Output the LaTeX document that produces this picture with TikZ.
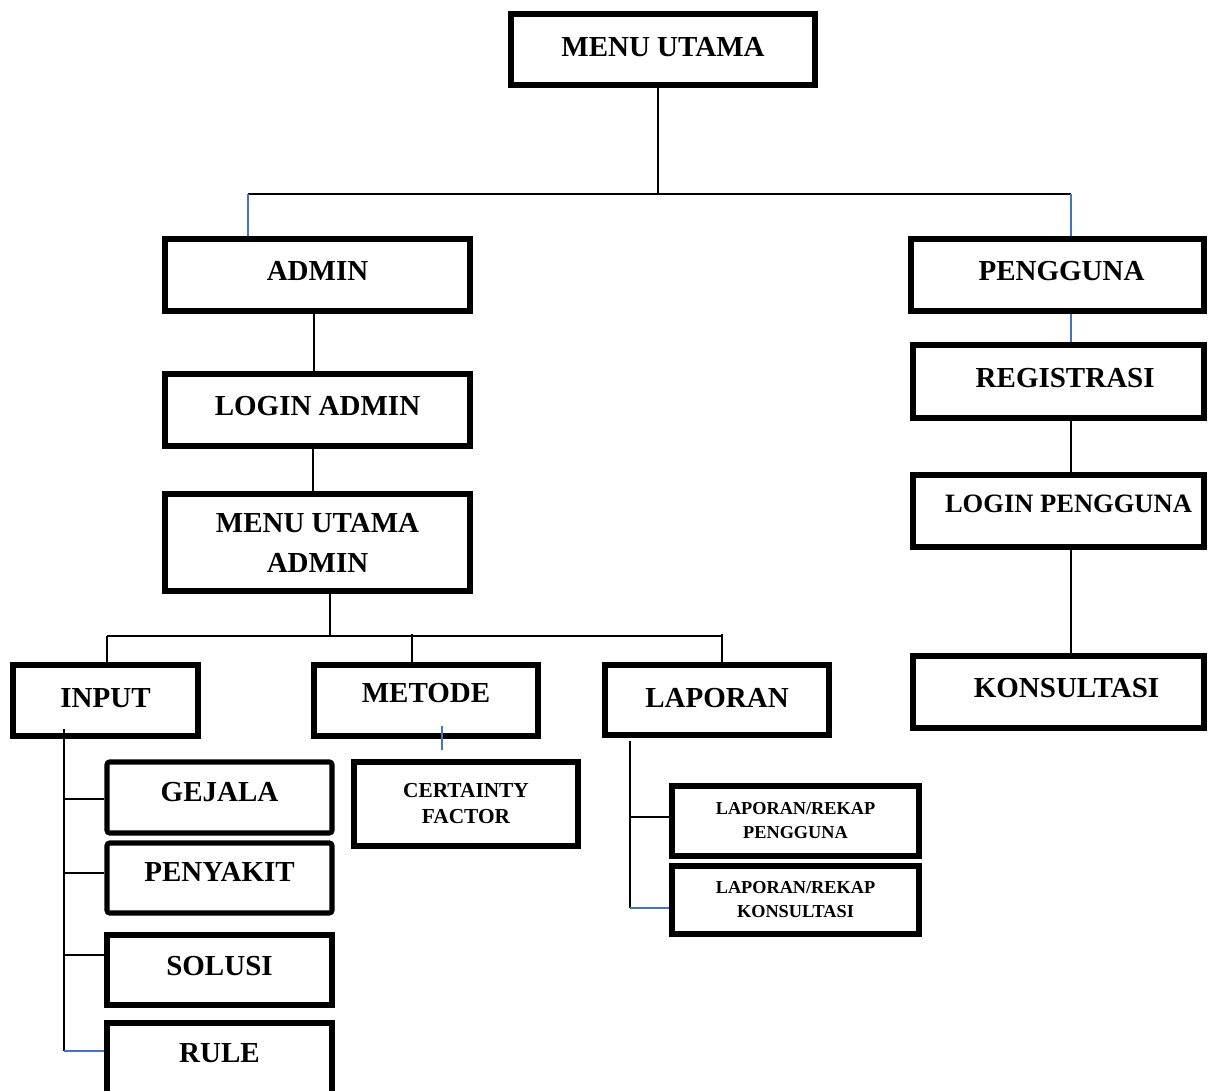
\documentclass[tikz,border=0pt]{standalone}
\usepackage{fontspec}
\setmainfont{Liberation Serif}
\usetikzlibrary{calc}
\definecolor{linkblue}{RGB}{68,114,196}
\newcommand\fntmain{\fontsize{21.75pt}{30pt}\selectfont\bfseries}
\newcommand\fntlogin{\fontsize{19.9pt}{24pt}\selectfont\bfseries}
\newcommand\fntcf{\fontsize{16pt}{19.5pt}\selectfont\bfseries}
\newcommand\fntrekap{\fontsize{13.7pt}{18pt}\selectfont\bfseries}
% push a one-line label to the right (half of the given space)
\newcommand\rpush[1]{\hspace*{#1}}
\begin{document}
\begin{tikzpicture}[x=0.75pt, y=-0.75pt,
  box/.style={draw, line width=3.8pt, inner sep=0pt, align=center, font=\fntmain},
  size/.style 2 args={minimum width=#1*0.75pt, minimum height=#2*0.75pt},
  lift/.style={text depth=#1*1.5pt},
  wire/.style={line width=1.2pt},
  bluewire/.style={line width=1.2pt, draw=linkblue}]
\useasboundingbox (0,0) rectangle (1217,1091);
\clip (0,0) rectangle (1217,1091);

% top level
\node[box, size={304}{71}, lift=3] (mu) at (663,49.5) {MENU UTAMA};

% admin column
\node[box, size={305}{72}, lift=4] (admin)  at (317.5,275)   {ADMIN};
\node[box, size={305}{72}, lift=4] (ladmin) at (317.5,410)   {LOGIN ADMIN};
\node[box, size={305}{97}]         (madmin) at (317.5,542.5) {MENU UTAMA\\ADMIN};

% user column
\node[box, size={293}{72}, lift=4] (peng)  at (1057.5,275)   {\rpush{6pt}PENGGUNA};
\node[box, size={291}{73}, lift=4] (reg)   at (1058.5,381.5) {\rpush{10pt}REGISTRASI};
\node[box, size={291}{72}, lift=7, font=\fntlogin] (lpeng) at (1058.5,511) {\rpush{15pt}LOGIN PENGGUNA};
\node[box, size={291}{72}, lift=4] (kons)  at (1058.5,692)   {\rpush{12pt}KONSULTASI};

% admin menu entries
\node[box, size={185}{71}, lift=2.5] (input)  at (105.5,700.5) {INPUT};
\node[box, size={224}{71}, lift=8]   (metode) at (426,700.5)   {METODE};
\node[box, size={224}{70}, lift=2]   (lapor)  at (717,700)     {LAPORAN};

% input entries
\node[box, rounded corners=2pt, size={225}{71}, lift=5.5] (gejala)   at (219.5,797.5) {GEJALA};
\node[box, rounded corners=2pt, size={225}{70}, lift=6]   (penyakit) at (219.5,878)   {PENYAKIT};
\node[box, size={225}{70}, lift=4]  (solusi) at (219.5,970)  {SOLUSI};
\node[box, size={225}{80}, lift=10] (rule)   at (219.5,1063) {RULE};

% method and report entries
\node[box, size={224}{84}, font=\fntcf]    (cf)  at (466,804)   {CERTAINTY\\FACTOR};
\node[box, size={247}{70}, font=\fntrekap] (lrp) at (795.5,821) {LAPORAN/REKAP\\PENGGUNA};
\node[box, size={247}{68}, font=\fntrekap] (lrk) at (795.5,900) {LAPORAN/REKAP\\KONSULTASI};

% main bus
\coordinate (topbus) at (658,194);
\coordinate (busL) at (248,194);
\coordinate (busR) at (1071,194);
\draw[wire] (mu.south -| topbus) -- (topbus);
\draw[wire] (busL) -- (busR);
\draw[bluewire] (busL) -- (busL |- admin.north);
\draw[bluewire] (busR) -- (busR |- peng.north);

% user chain
\draw[bluewire] (peng.south -| busR) -- (reg.north -| busR);
\coordinate (xr) at (1071,0);
\draw[wire] (reg.south -| xr) -- (lpeng.north -| xr);
\draw[wire] (lpeng.south -| xr) -- (kons.north -| xr);

% admin chain
\coordinate (xa) at (314,0);
\coordinate (xb) at (313,0);
\draw[wire] (admin.south -| xa) -- (ladmin.north -| xa);
\draw[wire] (ladmin.south -| xb) -- (madmin.north -| xb);
\coordinate (subbus) at (330,636);
\coordinate (sbL) at (107,636);
\coordinate (sbR) at (722,636);
\draw[wire] (madmin.south -| subbus) -- (subbus);
\draw[wire] (sbL) -- (sbR);
\draw[wire] (sbL) -- (sbL |- input.north);
\coordinate (mtick) at (412,634);
\coordinate (ltick) at (722,634);
\draw[wire] (mtick) -- (mtick |- metode.north);
\draw[wire] (ltick) -- (ltick |- lapor.north);

% input tree
\coordinate (itop) at (64,729);
\coordinate (t1) at (64,799);
\coordinate (t2) at (64,873);
\coordinate (t3) at (63,955);
\coordinate (t4) at (64,1051);
\draw[wire] (itop) -- (t4);
\draw[wire] (t1) -- (t1 -| gejala.west);
\draw[wire] (t2) -- (t2 -| penyakit.west);
\draw[wire] (t3) -- (t3 -| solusi.west);
\draw[bluewire] (t4) -- (t4 -| rule.west);

% method stub
\coordinate (ms1) at (442,726);
\coordinate (ms2) at (442,750);
\draw[bluewire] (ms1) -- (ms2);

% report tree
\coordinate (ltop) at (630,741);
\coordinate (lt1) at (630,817);
\coordinate (lt2) at (630,908);
\draw[wire] (ltop) -- (lt2);
\draw[wire] (lt1) -- (lt1 -| lrp.west);
\draw[bluewire] (lt2) -- (lt2 -| lrk.west);
\end{tikzpicture}
\end{document}
